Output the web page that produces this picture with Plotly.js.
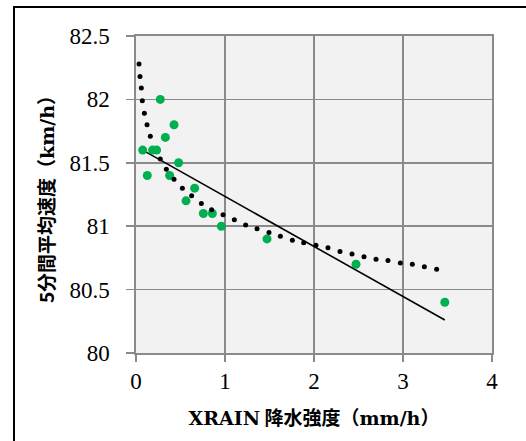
<!DOCTYPE html>
<html>
<head>
<meta charset="utf-8">
<script src="https://cdn.plot.ly/plotly-3.0.1.min.js"></script>
<style>
  html, body { margin: 0; padding: 0; background: #ffffff; }
  #wrap { position: relative; width: 526px; height: 441px; overflow: hidden; }
  #chart { position: absolute; left: 0; top: 0; width: 526px; height: 441px; }
  #frame { position: absolute; left: 13px; top: 6px; width: 600px; height: 600px;
           border: 2px solid #000; pointer-events: none; box-sizing: border-box; }
</style>
</head>
<body>
<div id="wrap">
  <div id="chart"></div>
  <div id="frame"></div>
</div>
<script>
// Observed data: XRAIN rainfall intensity (mm/h) vs 5-minute average speed (km/h)
const rainX = [0.075, 0.127, 0.187, 0.232, 0.273, 0.33, 0.378, 0.427, 0.479, 0.562, 0.659, 0.757, 0.858, 0.959, 1.472, 2.472, 3.47];
const speedY = [81.6, 81.4, 81.6, 81.6, 82.0, 81.7, 81.4, 81.8, 81.5, 81.2, 81.3, 81.1, 81.1, 81.0, 80.9, 80.7, 80.4];

// Dotted (logarithmic) trendline, read dot by dot from the picture
const logTrendX = [0.034, 0.045, 0.060, 0.071, 0.094, 0.124, 0.161, 0.273, 0.341, 0.427, 0.521, 0.625, 0.734, 0.850, 0.978, 1.105, 1.232, 1.360, 1.494, 1.622, 1.757, 1.884, 2.022, 2.157, 2.292, 2.427, 2.562, 2.697, 2.831, 2.970, 3.105, 3.240, 3.378];
const logTrendY = [82.28, 82.18, 82.09, 81.99, 81.89, 81.80, 81.71, 81.53, 81.45, 81.37, 81.30, 81.24, 81.18, 81.13, 81.09, 81.05, 81.01, 80.98, 80.95, 80.92, 80.89, 80.87, 80.85, 80.83, 80.80, 80.78, 80.76, 80.74, 80.73, 80.71, 80.70, 80.68, 80.66];

// Linear trendline end points
const linTrendX = [0.075, 3.47];
const linTrendY = [81.6, 80.26];

// Axis ticks
const xTicks = [0, 1, 2, 3, 4];
const xTickText = ['0', '1', '2', '3', '4'];
const yTicks = [80, 80.5, 81, 81.5, 82, 82.5];
const yTickText = ['80', '80.5', '81', '81.5', '82', '82.5'];

const gridColor = '#8a8a8a';
const serif = 'Liberation Serif, serif';
const cjk = 'Noto Sans CJK JP';
const ser = s => '<span style="font-family:Liberation Serif">' + s + '</span>';
const lat = s => '<span style="font-family:DejaVu Serif">' + s + '</span>';

const traces = [
  { x: linTrendX, y: linTrendY, type: 'scatter', mode: 'lines',
    line: { color: '#000000', width: 1.6 }, hoverinfo: 'skip' },
  { x: rainX, y: speedY, type: 'scatter', mode: 'markers',
    marker: { color: '#00B050', size: 9, line: { width: 0 } } },
  { x: logTrendX, y: logTrendY, type: 'scatter', mode: 'markers',
    marker: { color: '#000000', size: 5, line: { width: 0 } }, hoverinfo: 'skip' }
];

const layout = {
  width: 526, height: 441,
  margin: { l: 136, r: 34, t: 36, b: 88, pad: 0 },
  font: { family: serif, color: '#000' },
  paper_bgcolor: '#ffffff',
  plot_bgcolor: '#f2f2f2',
  showlegend: false,
  xaxis: {
    range: [0, 4], tickmode: 'array', tickvals: xTicks, ticktext: xTickText.map(ser),
    showgrid: true, gridcolor: gridColor, gridwidth: 1.7,
    showline: true, linecolor: gridColor, linewidth: 1.7, mirror: true,
    zeroline: false,
    ticks: 'outside', ticklen: 7, tickwidth: 1.5, tickcolor: gridColor,
    tickfont: { family: serif, size: 23, color: '#000' },
    title: { text: '<b>' + lat('XRAIN') + ' 降水強度（' + lat('mm/h') + '）</b>',
             font: { family: cjk, size: 19, color: '#000' }, standoff: 18 }
  },
  yaxis: {
    range: [80, 82.5], tickmode: 'array', tickvals: yTicks, ticktext: yTickText.map(ser),
    showgrid: true, gridcolor: gridColor, gridwidth: 1.7,
    showline: true, linecolor: gridColor, linewidth: 1.7, mirror: true,
    zeroline: false,
    ticks: 'outside', ticklen: 8, tickwidth: 1.5, tickcolor: gridColor,
    tickfont: { family: serif, size: 23, color: '#000' },
    ticklabelstandoff: 12,
    title: { text: '<b>5分間平均速度（' + lat('km/h') + '）</b>',
             font: { family: cjk, size: 19, color: '#000' }, standoff: 10 }
  }
};

Plotly.newPlot('chart', traces, layout, { displayModeBar: false, staticPlot: true });
</script>
</body>
</html>
